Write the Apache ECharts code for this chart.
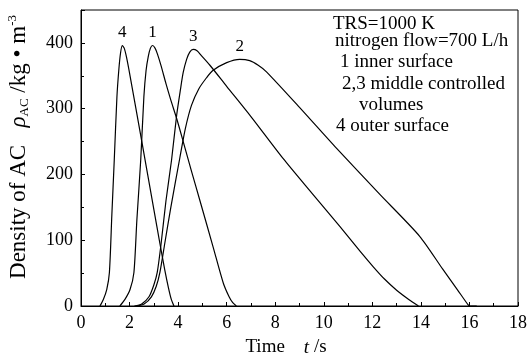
<!DOCTYPE html>
<html>
<head>
<meta charset="utf-8">
<script src="https://cdn.jsdelivr.net/npm/echarts@6/dist/echarts.min.js"></script>
<style>
html,body{margin:0;padding:0;background:#fff;}
#chart{width:527px;height:355px;}
</style>
</head>
<body>
<div id="chart"></div>
<script>
// Curve 4: outer surface
var t4 = [0.78, 0.92, 1.06, 1.17, 1.27, 1.37, 1.48, 1.56, 1.63, 1.70, 1.78, 1.87, 2.02, 2.5, 3.0, 3.25, 3.45, 3.6, 3.72, 3.83];
var v4 = [0, 10, 25, 51, 138, 222, 318, 360, 385, 396, 392, 379, 350, 251, 147, 95, 55, 28, 10, 0];
// Curve 1: inner surface
var t1 = [1.6, 1.81, 2.02, 2.18, 2.3, 2.46, 2.59, 2.68, 2.77, 2.86, 2.95, 3.05, 3.15, 3.3, 3.5, 3.7, 3.94, 4.21, 4.55, 4.9, 5.44, 5.86, 6.1, 6.25, 6.4];
var v1 = [0, 10, 25, 51, 130, 222, 318, 358, 379, 392, 396, 392, 383, 365, 338, 313, 285, 250, 205, 160, 90, 35, 14, 5, 0];
// Curve 3: middle controlled volume
var t3 = [2.2, 2.5, 2.8, 3.0, 3.14, 3.3, 3.5, 3.73, 3.94, 4.1, 4.21, 4.35, 4.48, 4.62, 4.78, 4.95, 5.31, 6.0, 7.0, 8.33, 9.5, 10.66, 11.5, 12.03, 12.5, 13.0, 13.5, 13.9];
var v3 = [0, 3, 14, 32, 51, 95, 160, 222, 290, 330, 355, 375, 386, 390, 388, 381, 366, 334, 288, 224, 172, 121, 83, 60, 41, 24, 10, 0];
// Curve 2: middle controlled volume
var t2 = [2.3, 2.6, 2.9, 3.1, 3.25, 3.45, 3.7, 4.07, 4.3, 4.55, 4.85, 5.17, 5.43, 6.0, 6.54, 6.95, 7.3, 7.64, 9.0, 10.52, 12.3, 13.95, 14.9, 15.5, 15.94, 16.0, 16.3];
var v2 = [0, 3, 14, 30, 51, 95, 150, 225, 270, 305, 330, 347, 358, 370, 375, 373, 366, 356, 302, 240, 170, 106, 56, 25, 2, 0, 0];

var curveNames = ['4', '1', '3', '2'];
var curveT = [t4, t1, t3, t2];
var curveV = [v4, v1, v3, v2];

var xTicks = { min: 0, max: 18, interval: 2 };
var yTicks = { min: 0, max: 450, interval: 100, lastLabel: 400 };

var noteLines = [
  'TRS=1000 K',
  'nitrogen flow=700 L/h',
  '1 inner surface',
  '2,3 middle controlled',
  'volumes',
  '4 outer surface'
];

var FONT = "'Liberation Serif', 'Times New Roman', serif";

function zip(ts, vs) { return ts.map(function (t, i) { return [t, vs[i]]; }); }

var series = curveNames.map(function (name, k) {
  return {
    type: 'line',
    name: name,
    data: zip(curveT[k], curveV[k]),
    showSymbol: false,
    smooth: 0.25,
    lineStyle: { color: '#000', width: 1.2 },
    markPoint: {
      symbol: 'circle',
      symbolSize: 0,
      data: [{ type: 'max' }],
      label: {
        show: true, position: 'top', distance: 4,
        formatter: name, color: '#000', fontFamily: FONT, fontSize: 17
      }
    }
  };
});

var noteX = [333, 335, 340, 342, 359, 336];
var noteY = [25, 42, 63, 84.5, 105.5, 127];
var graphics = noteLines.map(function (s, i) {
  return {
    type: 'text', left: noteX[i], top: noteY[i] - 10,
    style: { text: s, fill: '#000', font: '19px ' + FONT }
  };
});

var chart = echarts.init(document.getElementById('chart'));
chart.setOption({
  animation: false,
  backgroundColor: '#fff',
  grid: {
    left: 81, right: 9, top: 10, bottom: 49, show: true, borderColor: '#000', borderWidth: 1,
    containLabel: false, outerBoundsMode: 'none'
  },
  xAxis: {
    type: 'value', min: xTicks.min, max: xTicks.max, interval: xTicks.interval,
    axisLine: { lineStyle: { color: '#000', width: 1 } },
    axisTick: { inside: true, length: 4, lineStyle: { color: '#000' } },
    minorTick: { show: true, splitNumber: 2, length: 3, lineStyle: { color: '#000' } },
    splitLine: { show: false },
    axisLabel: { color: '#000', fontFamily: FONT, fontSize: 18, margin: 8 },
    name: 'Time    {i|t} /s',
    nameLocation: 'middle',
    nameGap: 32,
    nameTextStyle: {
      color: '#000', fontFamily: FONT, fontSize: 19, padding: [0, 27, 0, 0],
      rich: { i: { fontStyle: 'italic', fontFamily: FONT, fontSize: 19, color: '#000' } }
    }
  },
  yAxis: {
    type: 'value', min: yTicks.min, max: yTicks.max, interval: yTicks.interval,
    axisLine: { show: true, lineStyle: { color: '#000', width: 1 } },
    axisTick: { show: true, inside: true, length: 4, lineStyle: { color: '#000' } },
    minorTick: { show: true, splitNumber: 2, length: 3, lineStyle: { color: '#000' } },
    splitLine: { show: false },
    axisLabel: {
      color: '#000', fontFamily: FONT, fontSize: 18, margin: 8,
      formatter: function (v) { return v > yTicks.lastLabel ? '' : String(v); }
    },
    name: 'Density of AC   {i|ρ}{sub|AC} /kg • m{sup|-3}',
    nameLocation: 'middle',
    nameRotate: 90,
    nameGap: 50,
    nameTextStyle: {
      color: '#000', fontFamily: FONT, fontSize: 23, padding: [0, 0, 0, 22],
      rich: {
        i: { fontStyle: 'italic', fontFamily: FONT, fontSize: 23, color: '#000' },
        sub: { fontFamily: FONT, fontSize: 13, color: '#000', padding: [12, 0, 0, 0] },
        sup: { fontFamily: FONT, fontSize: 13, color: '#000', padding: [0, 0, 12, 0] }
      }
    }
  },
  graphic: graphics,
  series: series
});
</script>
</body>
</html>
